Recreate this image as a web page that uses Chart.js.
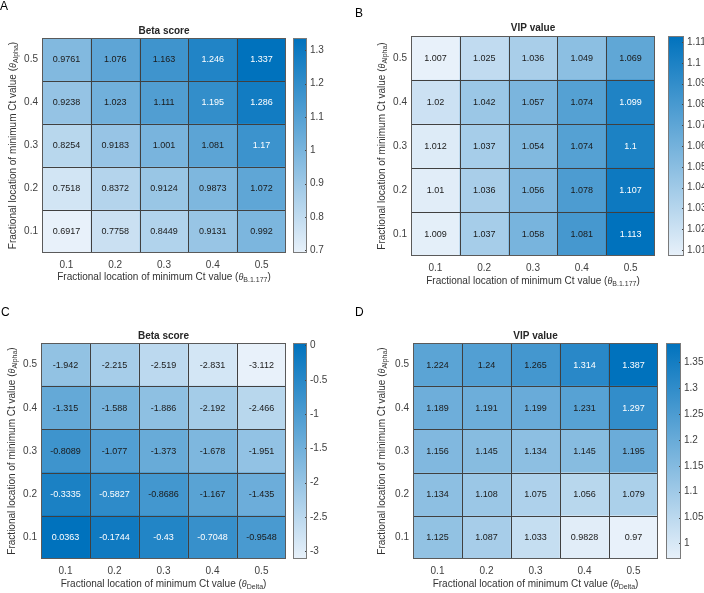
<!DOCTYPE html>
<html lang="en">
<head>
<meta charset="utf-8">
<title>Beta score and VIP value heatmaps</title>
<script src="https://cdn.jsdelivr.net/npm/chart.js@4.4.1/dist/chart.umd.min.js"></script>
<style>
  * { margin: 0; padding: 0; box-sizing: border-box; }
  body { width: 704px; height: 593px; background: #fff; position: relative; overflow: hidden; }
  canvas { position: absolute; }
</style>
</head>
<body>
<canvas id="heatA" width="290" height="290" style="left:0;top:0"></canvas>
<canvas id="barA" width="62" height="290" style="left:290px;top:0"></canvas>
<canvas id="heatB" width="310" height="290" style="left:352px;top:0"></canvas>
<canvas id="barB" width="42" height="290" style="left:662px;top:0"></canvas>
<canvas id="heatC" width="290" height="303" style="left:0;top:290px"></canvas>
<canvas id="barC" width="62" height="303" style="left:290px;top:290px"></canvas>
<canvas id="heatD" width="310" height="303" style="left:352px;top:290px"></canvas>
<canvas id="barD" width="42" height="303" style="left:662px;top:290px"></canvas>
<script>
// --- data ---
// columns: theta of the second lineage, rows: theta Alpha (bottom row = 0.1)
const xLabels = ["0.1", "0.2", "0.3", "0.4", "0.5"];
const yLabels = ["0.1", "0.2", "0.3", "0.4", "0.5"];

const betaB1177 = [
  [0.6917, 0.7758, 0.8449, 0.9131, 0.992],
  [0.7518, 0.8372, 0.9124, 0.9873, 1.072],
  [0.8254, 0.9183, 1.001, 1.081, 1.17],
  [0.9238, 1.023, 1.111, 1.195, 1.286],
  [0.9761, 1.076, 1.163, 1.246, 1.337]
];
const vipB1177 = [
  [1.009, 1.037, 1.058, 1.081, 1.113],
  [1.01, 1.036, 1.056, 1.078, 1.107],
  [1.012, 1.037, 1.054, 1.074, 1.1],
  [1.02, 1.042, 1.057, 1.074, 1.099],
  [1.007, 1.025, 1.036, 1.049, 1.069]
];
const betaDelta = [
  [0.0363, -0.1744, -0.43, -0.7048, -0.9548],
  [-0.3335, -0.5827, -0.8686, -1.167, -1.435],
  [-0.8089, -1.077, -1.373, -1.678, -1.951],
  [-1.315, -1.588, -1.886, -2.192, -2.466],
  [-1.942, -2.215, -2.519, -2.831, -3.112]
];
const vipDelta = [
  [1.125, 1.087, 1.033, 0.9828, 0.97],
  [1.134, 1.108, 1.075, 1.056, 1.079],
  [1.156, 1.145, 1.134, 1.145, 1.195],
  [1.189, 1.191, 1.199, 1.231, 1.297],
  [1.224, 1.24, 1.265, 1.314, 1.387]
];

// colorbar tick labels
const ticksA = [0.7, 0.8, 0.9, 1, 1.1, 1.2, 1.3];
const ticksB = [1.01, 1.02, 1.03, 1.04, 1.05, 1.06, 1.07, 1.08, 1.09, 1.1, 1.11];
const ticksC = [-3, -2.5, -2, -1.5, -1, -0.5, 0];
const ticksD = [1, 1.05, 1.1, 1.15, 1.2, 1.25, 1.3, 1.35];

// --- helpers ---
const FONT = '"Liberation Sans", Arial, sans-serif';
const LOW = [232, 241, 250];
const HIGH = [0, 114, 189];

function colorAt(t) {
  const c = LOW.map((l, i) => Math.round(l + (HIGH[i] - l) * t));
  return `rgb(${c[0]},${c[1]},${c[2]})`;
}

function range(vals) {
  const flat = vals.flat();
  return [Math.min(...flat), Math.max(...flat)];
}

// draws text made of parts (for the theta subscript), centred at cx,cy
function drawParts(ctx, parts, cx, cy, rotate) {
  ctx.save();
  ctx.translate(cx, cy);
  if (rotate) ctx.rotate(-Math.PI / 2);
  ctx.textBaseline = "middle";
  ctx.textAlign = "left";
  let total = 0;
  parts.forEach(p => { ctx.font = p.font; p.w = ctx.measureText(p.t).width; total += p.w; });
  let x = -total / 2;
  parts.forEach(p => {
    ctx.font = p.font;
    ctx.fillText(p.t, x, p.dy || 0);
    x += p.w;
  });
  ctx.restore();
}

function axisTitle(sub) {
  return [
    { t: "Fractional location of minimum Ct value (", font: "10px " + FONT },
    { t: "\u03b8", font: "italic 9px " + FONT },
    { t: sub, font: "7px " + FONT, dy: 3 },
    { t: ")", font: "10px " + FONT }
  ];
}

const heatPlugin = {
  id: "heatDecor",
  afterDatasetsDraw(chart, args, opts) {
    const ctx = chart.ctx;
    const area = chart.chartArea;
    const xs = chart.scales.x, ys = chart.scales.y;
    const [lo, hi] = range(opts.values);

    // cell labels
    ctx.save();
    ctx.font = "9px " + FONT;
    ctx.textAlign = "center";
    ctx.textBaseline = "middle";
    chart.data.datasets.forEach((ds, r) => {
      chart.getDatasetMeta(r).data.forEach((el, c) => {
        const v = opts.values[r][c];
        const t = (v - lo) / (hi - lo);
        ctx.fillStyle = t > 0.735 ? "#ffffff" : "#1a1a1a";
        ctx.fillText(String(v), el.x, (el.y + el.base) / 2 + 0.5);
      });
    });

    // cell borders
    ctx.strokeStyle = "#404040";
    ctx.lineWidth = 1;
    ctx.beginPath();
    for (let i = 1; i < xLabels.length; i++) {
      const x = Math.round((xs.getPixelForValue(i - 1) + xs.getPixelForValue(i)) / 2) + 0.5;
      ctx.moveTo(x, area.top); ctx.lineTo(x, area.bottom);
    }
    for (let j = 1; j < yLabels.length; j++) {
      const y = Math.round(ys.getPixelForValue(j)) + 0.5;
      ctx.moveTo(area.left, y); ctx.lineTo(area.right, y);
    }
    ctx.stroke();
    ctx.strokeStyle = "#5a5a5a";
    ctx.strokeRect(Math.round(area.left) + 0.5, Math.round(area.top) + 0.5,
      Math.round(area.right - area.left) - 1, Math.round(area.bottom - area.top) - 1);

    // titles
    ctx.fillStyle = "#262626";
    ctx.font = "bold 10px " + FONT;
    ctx.textBaseline = "middle";
    ctx.fillText(opts.title, (area.left + area.right) / 2, opts.titleY);
    ctx.fillStyle = "#333";
    drawParts(ctx, axisTitle(opts.xSub), (area.left + area.right) / 2, opts.xTitleY, false);
    drawParts(ctx, axisTitle("Alpha"), opts.yTitleX, (area.top + area.bottom) / 2, true);

    // panel letter
    ctx.fillStyle = "#000";
    ctx.font = "12px " + FONT;
    ctx.textAlign = "left";
    ctx.textBaseline = "top";
    ctx.fillText(opts.letter, opts.letterX, opts.letterY);
    ctx.restore();
  }
};

const barPlugin = {
  id: "barDecor",
  afterDraw(chart) {
    const ctx = chart.ctx;
    const a = chart.chartArea;
    const ys = chart.scales.y;
    ctx.save();
    ctx.strokeStyle = "#444";
    ctx.lineWidth = 1;
    ctx.beginPath();
    ys.ticks.forEach(t => {
      const y = Math.round(ys.getPixelForValue(t.value)) + 0.5;
      ctx.moveTo(a.right - 2, y); ctx.lineTo(a.right, y);
    });
    ctx.stroke();
    ctx.strokeStyle = "#7a7a7a";
    ctx.strokeRect(Math.round(a.left) + 0.5, Math.round(a.top) + 0.5,
      Math.round(a.right - a.left) - 1, Math.round(a.bottom - a.top) - 1);
    ctx.restore();
  }
};

function makeHeat(id, values, g) {
  const [lo, hi] = range(values);
  new Chart(document.getElementById(id), {
    type: "bar",
    data: {
      labels: xLabels,
      datasets: yLabels.map((lab, r) => ({
        label: lab,
        data: xLabels.map(() => 1),
        backgroundColor: values[r].map(v => colorAt((v - lo) / (hi - lo))),
        borderWidth: 0,
        barPercentage: 1,
        categoryPercentage: 1
      }))
    },
    options: {
      responsive: false,
      animation: false,
      layout: { padding: { top: g.top, right: g.right, left: 0, bottom: 0 } },
      plugins: {
        legend: { display: false },
        tooltip: { enabled: false },
        heatDecor: { values: values, title: g.title, xSub: g.xSub, titleY: g.titleY,
          xTitleY: g.xTitleY, yTitleX: g.yTitleX, letter: g.letter, letterX: g.letterX, letterY: g.letterY }
      },
      scales: {
        x: {
          stacked: true,
          grid: { display: false, drawTicks: false },
          border: { display: false },
          ticks: { color: "#404040", font: { size: 10, family: FONT }, padding: 6 },
          afterFit: s => { s.height = g.xHeight; }
        },
        y: {
          stacked: true,
          min: 0,
          max: yLabels.length,
          grid: { display: false, drawTicks: false },
          border: { display: false },
          afterBuildTicks: s => { s.ticks = yLabels.map((_, i) => ({ value: i + 0.5 })); },
          ticks: {
            color: "#404040", font: { size: 10, family: FONT }, padding: 4, autoSkip: false,
            callback: v => yLabels[Math.floor(v)]
          },
          afterFit: s => { s.width = g.yWidth; }
        }
      }
    },
    plugins: [heatPlugin]
  });
}

function makeBar(id, values, ticks, g) {
  const [lo, hi] = range(values);
  new Chart(document.getElementById(id), {
    type: "bar",
    data: {
      labels: [""],
      datasets: [{
        data: [[lo, hi]],
        borderWidth: 0,
        barPercentage: 1,
        categoryPercentage: 1,
        backgroundColor: c => {
          const a = c.chart.chartArea;
          if (!a) return colorAt(0.5);
          const grad = c.chart.ctx.createLinearGradient(0, a.bottom, 0, a.top);
          grad.addColorStop(0, colorAt(0));
          grad.addColorStop(1, colorAt(1));
          return grad;
        }
      }]
    },
    options: {
      responsive: false,
      animation: false,
      layout: { padding: { top: g.top, left: g.left, bottom: g.bottom, right: 0 } },
      plugins: { legend: { display: false }, tooltip: { enabled: false } },
      scales: {
        x: { display: false },
        y: {
          position: "right",
          min: lo,
          max: hi,
          grid: { display: false, drawTicks: false },
          border: { display: false },
          afterBuildTicks: s => { s.ticks = ticks.map(v => ({ value: v })); },
          ticks: {
            color: "#404040", font: { size: 10, family: FONT }, padding: 3, autoSkip: false,
            callback: v => String(v)
          },
          afterFit: s => { s.width = g.yWidth; }
        }
      }
    },
    plugins: [barPlugin]
  });
}

makeHeat("heatA", betaB1177, { top: 38, right: 4, xHeight: 37, yWidth: 42, title: "Beta score",
  xSub: "B.1.177", titleY: 31, xTitleY: 277, yTitleX: 13, letter: "A", letterX: 0, letterY: 1 });
makeBar("barA", betaB1177, ticksA, { top: 38, left: 3, bottom: 37, yWidth: 45 });

makeHeat("heatB", vipB1177, { top: 36, right: 7, xHeight: 34, yWidth: 59, title: "VIP value",
  xSub: "B.1.177", titleY: 28, xTitleY: 281, yTitleX: 30, letter: "B", letterX: 3, letterY: 8 });
makeBar("barB", vipB1177, ticksB, { top: 36, left: 6, bottom: 34, yWidth: 20 });

makeHeat("heatC", betaDelta, { top: 53, right: 4, xHeight: 34, yWidth: 41, title: "Beta score",
  xSub: "Delta", titleY: 46, xTitleY: 294, yTitleX: 12, letter: "C", letterX: 1, letterY: 17 });
makeBar("barC", betaDelta, ticksC, { top: 53, left: 3, bottom: 34, yWidth: 45 });

makeHeat("heatD", vipDelta, { top: 53, right: 4, xHeight: 34, yWidth: 61, title: "VIP value",
  xSub: "Delta", titleY: 46, xTitleY: 294, yTitleX: 30, letter: "D", letterX: 3, letterY: 17 });
makeBar("barD", vipDelta, ticksD, { top: 53, left: 4, bottom: 34, yWidth: 23 });
</script>
</body>
</html>
